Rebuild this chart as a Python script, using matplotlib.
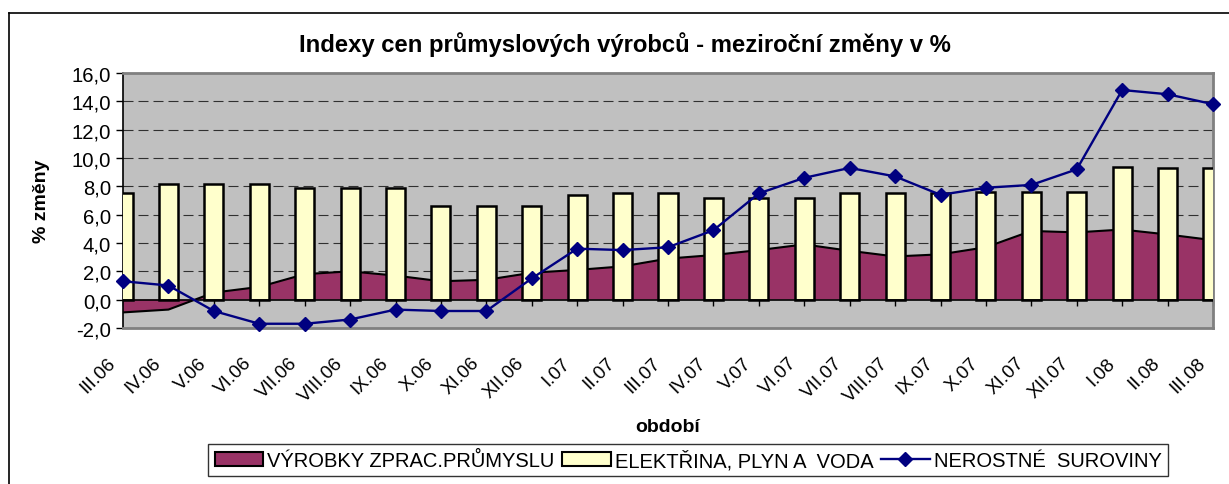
import matplotlib
matplotlib.use("Agg")
import matplotlib.pyplot as plt
import matplotlib.transforms as mtransforms
from matplotlib.patches import Patch
from matplotlib.lines import Line2D
import numpy as np

plt.rcParams['font.family'] = ['Liberation Sans', 'DejaVu Sans']

categories = ["III.06", "IV.06", "V.06", "VI.06", "VII.06", "VIII.06", "IX.06", "X.06",
              "XI.06", "XII.06", "I.07", "II.07", "III.07", "IV.07", "V.07", "VI.07",
              "VII.07", "VIII.07", "IX.07", "X.07", "XI.07", "XII.07", "I.08", "II.08", "III.08"]

vyrobky = [-0.9, -0.7, 0.5, 0.9, 1.8, 2.0, 1.7, 1.3, 1.4, 1.9, 2.1, 2.35, 2.9, 3.15, 3.5, 3.9,
           3.45, 3.05, 3.2, 3.7, 4.85, 4.75, 4.95, 4.6, 4.2]
elektrina = [7.5, 8.2, 8.2, 8.2, 7.9, 7.9, 7.9, 6.6, 6.6, 6.6, 7.4, 7.5, 7.5, 7.2, 7.2, 7.2,
             7.5, 7.5, 7.5, 7.6, 7.6, 7.6, 9.4, 9.3, 9.3]
nerostne = [1.3, 1.0, -0.8, -1.7, -1.7, -1.4, -0.7, -0.8, -0.8, 1.5, 3.6, 3.5, 3.7, 4.9, 7.5, 8.6,
            9.3, 8.7, 7.4, 7.9, 8.1, 9.2, 14.8, 14.5, 13.8]

yticks = [-2, 0, 2, 4, 6, 8, 10, 12, 14, 16]

title = "Indexy cen průmyslových výrobců - meziroční změny v %"
ylabel = "% změny"
xlabel = "období"
series_names = ["VÝROBKY ZPRAC.PRŮMYSLU", "ELEKTŘINA, PLYN A  VODA", "NEROSTNÉ  SUROVINY"]

W, H = 1229, 485
dpi = 100
fig = plt.figure(figsize=(W / dpi, H / dpi), dpi=dpi)
fig.patch.set_facecolor('white')

ax = fig.add_axes([123 / W, 1 - 329 / H, (1213 - 123) / W, (329 - 74) / H])
ax.set_facecolor('#C0C0C0')

x = np.arange(len(categories))

# area
ax.fill_between(x, 0, vyrobky, facecolor='#993366', edgecolor='none', zorder=2)
ax.plot(x, vyrobky, color='black', lw=1.5, zorder=2.5)

# bars
ax.bar(x, elektrina, width=0.42, facecolor='#FFFFCC', edgecolor='black', linewidth=1.8, zorder=3)

# line
ax.plot(x, nerostne, color='#000080', lw=1.7, marker='D', markersize=7.4,
        markerfacecolor='#000080', markeredgecolor='#000080', zorder=5, clip_on=False)

ax.set_xlim(0, len(categories) - 1)
ax.set_ylim(yticks[0], yticks[-1])

# grid
for v in yticks[2:-1]:
    ax.axhline(v, color='#303030', lw=0.8, dashes=(9, 4.5), zorder=1)
ax.axhline(0, color='black', lw=1.2, zorder=4)

# y axis
ax.set_yticks(yticks)
ax.set_yticklabels([f"{v:.1f}".replace('.', ',') for v in yticks], fontsize=14.6)
ax.tick_params(axis='y', length=5, width=1, pad=3.5, colors='black')

# x tick labels at bottom
ax.set_xticks(x)
ax.set_xticklabels(categories, fontsize=13.6, rotation=45, ha='right', va='center',
                   rotation_mode='anchor')
ax.tick_params(axis='x', length=0, pad=0)
off = mtransforms.ScaledTranslation(-10 / dpi, -32 / dpi, fig.dpi_scale_trans)
for lab in ax.get_xticklabels():
    lab.set_transform(lab.get_transform() + off)

# tick marks at y=0
sec = ax.secondary_xaxis((0 - yticks[0]) / (yticks[-1] - yticks[0]))
sec.set_xticks(x)
sec.set_xticklabels([])
sec.tick_params(axis='x', length=4.3, width=1, direction='out', colors='black')
sec.spines['bottom'].set_visible(False)

for s in ['top', 'right', 'bottom']:
    ax.spines[s].set_color('#808080')
    ax.spines[s].set_linewidth(2)
ax.spines['left'].set_color('black')
ax.spines['left'].set_linewidth(1.2)

# texts
fig.text(625 / W, 1 - 45 / H, title, fontsize=17.2, fontweight='bold', ha='center', va='center')
fig.text(42 / W, 1 - 201 / H, ylabel, fontsize=14, fontweight='bold', rotation=90,
         ha='center', va='center')
fig.text(668 / W, 1 - 428 / H, xlabel, fontsize=14, fontweight='bold', ha='center', va='center')

# legend
handles = [Patch(facecolor='#993366', edgecolor='black', linewidth=1.5),
           Patch(facecolor='#FFFFCC', edgecolor='black', linewidth=1.5),
           Line2D([0], [0], color='#000080', lw=1.7, marker='D', markersize=7.4,
                  markerfacecolor='#000080')]
leg = fig.legend(handles, series_names, loc='center', bbox_to_anchor=(688 / W, 1 - 461 / H),
                 ncol=3, fontsize=14.5, frameon=True, fancybox=False, shadow=False,
                 handlelength=2.4, handleheight=0.65, handletextpad=0.2, columnspacing=0.4,
                 borderpad=0.3, borderaxespad=0)
leg.get_frame().set_edgecolor('black')
leg.get_frame().set_linewidth(1)

# chart border
fig.add_artist(Line2D([9 / W, 1], [1 - 14 / H, 1 - 14 / H], color='black', lw=1.2,
                      transform=fig.transFigure))
fig.add_artist(Line2D([9 / W, 9 / W], [0, 1 - 14 / H], color='black', lw=1.2,
                      transform=fig.transFigure))

fig.savefig("out.png", dpi=dpi)
